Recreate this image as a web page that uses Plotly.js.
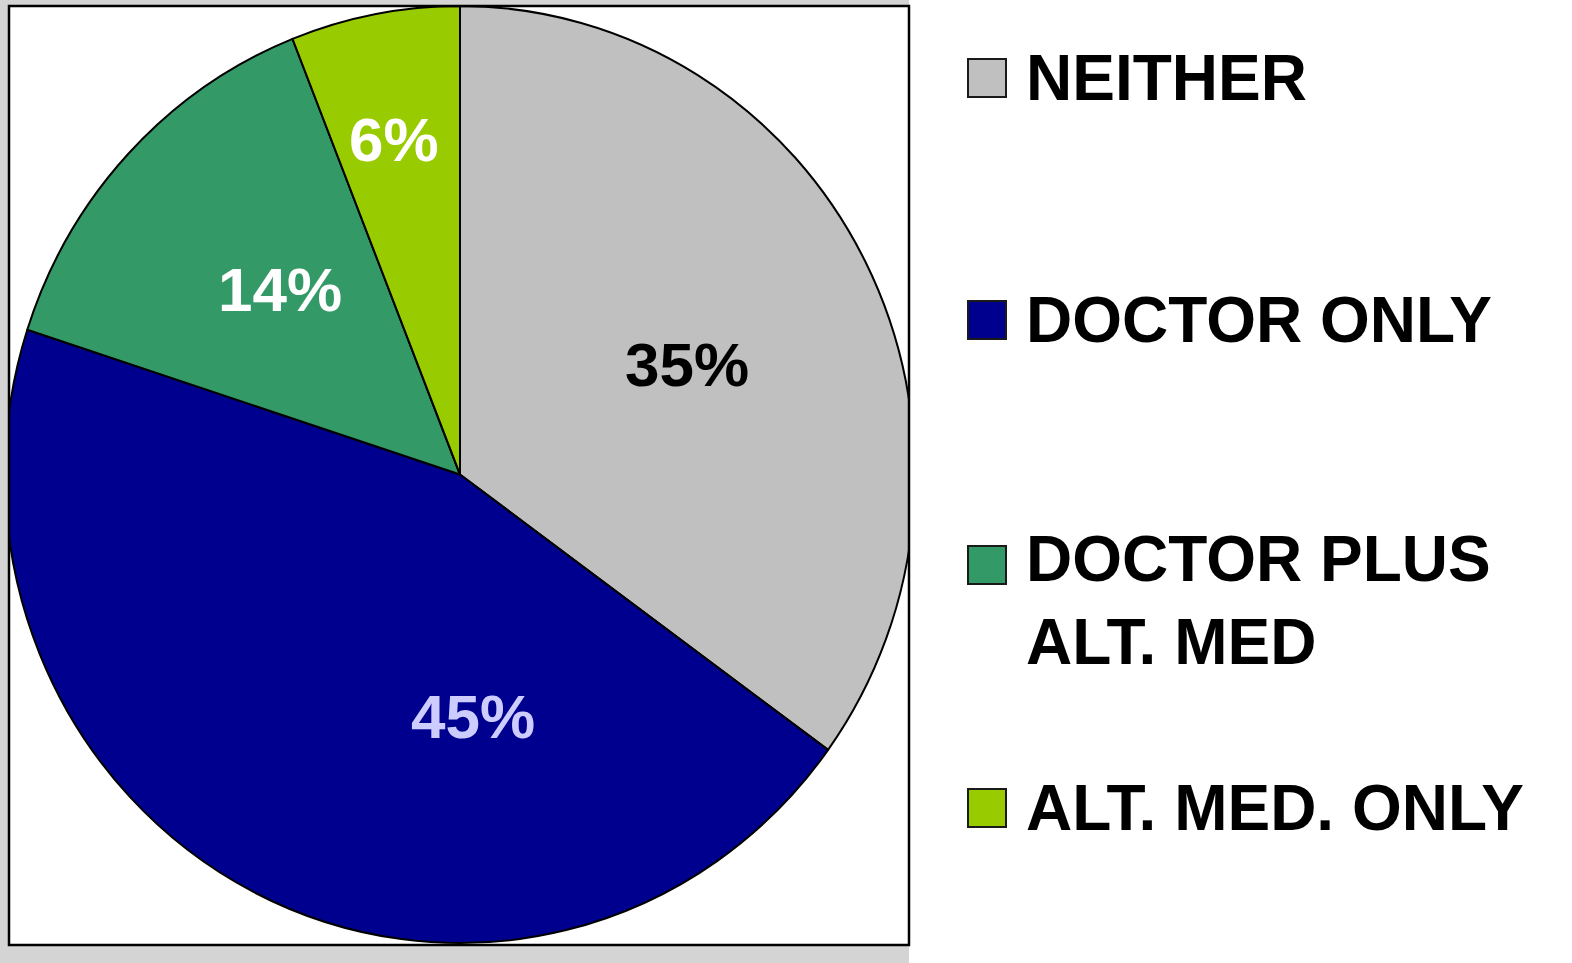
<!DOCTYPE html>
<html>
<head>
<meta charset="utf-8">
<script src="https://cdn.plot.ly/plotly-3.0.1.min.js"></script>
<style>
  html, body { margin: 0; padding: 0; overflow: hidden; background: #d5d5d5; }
  #chart { width: 1572px; height: 963px; }
</style>
</head>
<body>
<div id="chart"></div>
<script>
// ---- data ----
const categories = ["NEITHER", "DOCTOR ONLY", "DOCTOR PLUS<br>ALT. MED", "ALT. MED. ONLY"];
const percentages = [35, 45, 14, 6];
const sliceColors = ["#c0c0c0", "#00008f", "#339966", "#99cc00"];
const labelColors = ["#000000", "#ccccff", "#ffffff", "#ffffff"];

// ---- layout helpers (pixel -> paper) ----
const W = 1572, H = 963;
const px = x => x / W;
const py = y => 1 - y / H;
const FONT = "Liberation Sans, Arial, Helvetica, sans-serif";
const GREY = "#d4d4d4";

// pie geometry: circle of radius rx, stretched vertically to ry (elliptical pie as in the original)
const cx = 460, cy = 474.5, rx = 455, ry = 468.5;

const pieTrace = {
  type: "pie",
  labels: categories,
  values: percentages,
  sort: false,
  direction: "clockwise",
  rotation: 0,
  marker: { colors: sliceColors, line: { color: "#000000", width: 2 } },
  textinfo: "none",
  hoverinfo: "skip",
  showlegend: false,
  domain: { x: [px(cx - rx), px(cx + rx)], y: [py(cy + rx), py(cy - rx)] }
};

// label positions inside slices (pixels)
const labelPos = [[687, 364], [473, 716], [280, 290], [394, 140]];
// legend item centres (pixels)
const legendY = [78, 320, 600, 808];
const swatchY = [78, 320, 565, 808];

const shapes = [
  // white plot box interior and white legend region (below the pie)
  { type: "rect", xref: "paper", yref: "paper", x0: px(9), x1: px(909), y0: py(945), y1: py(6), fillcolor: "#ffffff", line: { width: 0 }, layer: "below" },
  { type: "rect", xref: "paper", yref: "paper", x0: px(909), x1: 1, y0: 0, y1: 1, fillcolor: "#ffffff", line: { width: 0 }, layer: "below" },
  // grey margins around the plot box (cover pie overflow)
  { type: "rect", xref: "paper", yref: "paper", x0: 0, x1: px(9), y0: 0, y1: 1, fillcolor: GREY, line: { width: 0 }, layer: "above" },
  { type: "rect", xref: "paper", yref: "paper", x0: 0, x1: px(909), y0: py(6), y1: 1, fillcolor: GREY, line: { width: 0 }, layer: "above" },
  { type: "rect", xref: "paper", yref: "paper", x0: 0, x1: px(909), y0: 0, y1: py(945), fillcolor: GREY, line: { width: 0 }, layer: "above" },
  // white legend region cover (pie overflow on the right)
  { type: "rect", xref: "paper", yref: "paper", x0: px(909), x1: 1, y0: 0, y1: 1, fillcolor: "#ffffff", line: { width: 0 }, layer: "above" },
  // plot box border
  { type: "rect", xref: "paper", yref: "paper", x0: px(9), x1: px(909), y0: py(945), y1: py(6), fillcolor: "rgba(0,0,0,0)", line: { color: "#000000", width: 2.5 }, layer: "above" }
];

const annotations = [];
percentages.forEach((v, i) => {
  annotations.push({
    xref: "paper", yref: "paper",
    x: px(labelPos[i][0]), y: py(labelPos[i][1]),
    xanchor: "center", yanchor: "middle",
    text: v + "%", showarrow: false,
    font: { family: FONT, size: 62, color: labelColors[i], weight: "bold" }
  });
  shapes.push({
    type: "rect", xref: "paper", yref: "paper",
    x0: px(968), x1: px(1006), y0: py(swatchY[i] + 19), y1: py(swatchY[i] - 19),
    fillcolor: sliceColors[i], line: { color: "#1a1a1a", width: 2 }, layer: "above"
  });
  annotations.push({
    xref: "paper", yref: "paper",
    x: px(1024), y: py(legendY[i]),
    xanchor: "left", yanchor: "middle", align: "left",
    text: categories[i], showarrow: false,
    font: { family: FONT, size: 64, color: "#000000", weight: "bold" }
  });
});

const layout = {
  width: W, height: H,
  margin: { l: 0, r: 0, t: 0, b: 0, pad: 0 },
  paper_bgcolor: GREY,
  showlegend: false,
  shapes: shapes,
  annotations: annotations
};

Plotly.newPlot("chart", [pieTrace], layout, { displayModeBar: false, staticPlot: true }).then(gd => {
  // stretch the pie vertically into the slightly elliptical shape of the original chart
  const layer = gd.querySelector(".pielayer");
  if (layer) {
    const s = ry / rx;
    layer.setAttribute("transform", `translate(0, ${cy}) scale(1, ${s}) translate(0, ${-cy})`);
  }
});
</script>
</body>
</html>
